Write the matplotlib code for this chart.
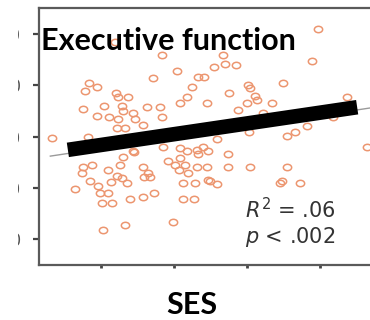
import matplotlib
matplotlib.use("Agg")
import matplotlib.pyplot as plt
from matplotlib.markers import MarkerStyle
from matplotlib.transforms import Affine2D
from matplotlib.patches import Rectangle

# SES (x) and executive function score (y)
ses = [-0.80, -0.16, 0.67, 1.97, 1.89, 0.04, -0.28, 0.33, 0.55, 0.70,
       0.85, 0.41, -1.16, -1.05, -1.21, -0.79, -0.77, -0.63, 0.25, 0.18,
       0.08, 1.02, 1.04, 1.49, 0.76, 1.11, 1.14, 0.45, 1.00, 1.35,
       0.88, 2.37, 1.22, -1.24, -0.96, -0.71, -0.69, -0.56, -0.37, -0.19,
       -1.05, -0.89, -0.77, -0.53, -0.16, -0.42, -0.78, -0.67, -1.67, -1.17,
       -0.15, 0.08, -0.56, 0.18, 0.32, 0.40, 0.47, 0.33, 0.74, 0.59,
       1.03, 1.55, 1.66, 1.82, 2.18, 2.64, -1.24, -1.12, -1.26, -0.90,
       -0.74, -0.69, -0.54, -0.78, -0.71, -0.64, -0.86, -1.15, -1.04, -1.01,
       -0.90, -1.35, -0.98, -0.85, -0.60, -0.42, -0.27, -0.42, -0.35, -0.41,
       -0.08, 0.02, 0.08, 0.15, 0.07, 0.19, 0.32, 0.45, 0.47, 0.13,
       0.29, 0.13, 0.28, -0.97, -0.67, -0.01, 0.74, 1.04, 1.55, 0.50,
       0.59, 1.45, 1.48, 1.73, -0.33]
ef = [48.4, 45.9, 45.9, 50.9, 44.7, 42.8, 41.4, 41.6, 43.5, 44.1,
      43.9, 41.6, 40.4, 39.7, 38.9, 38.5, 37.7, 37.7, 39.7, 37.7,
      36.5, 40.0, 39.5, 40.4, 38.5, 37.9, 37.1, 36.5, 36.5, 36.5,
      35.2, 37.7, 34.6, 35.4, 36.0, 36.0, 35.0, 34.6, 35.8, 35.8,
      34.0, 33.8, 33.4, 33.4, 33.8, 32.3, 31.7, 31.7, 29.7, 29.9,
      28.0, 27.8, 27.2, 27.2, 27.4, 28.0, 27.2, 26.6, 26.6, 29.5,
      30.9, 30.1, 30.9, 32.1, 33.8, 28.0, 24.1, 24.5, 22.9, 23.5,
      24.5, 26.0, 27.0, 22.3, 22.0, 21.0, 21.2, 21.4, 20.4, 19.0,
      19.0, 19.8, 17.1, 17.1, 17.9, 18.3, 19.0, 24.1, 22.9, 22.1,
      25.3, 24.5, 25.8, 24.5, 23.5, 22.9, 24.1, 24.1, 21.6, 21.0,
      21.0, 17.9, 17.9, 11.8, 12.8, 13.4, 24.1, 24.1, 24.1, 21.4,
      20.8, 21.0, 21.4, 21.0, 22.1]

# fitted line (intercept, slope) and the hand-drawn bar over it
fit_coef = [29.8, 2.14]
fit_x = [-1.69, 2.68]
bar_x = [-1.45, 2.51]
bar_y = [27.4, 35.7]

y_ticks = [10, 20, 30, 40, 50]
x_ticks = [-1, 0, 1, 2]

plt.rcParams["mathtext.fontset"] = "dejavusans"

fig = plt.figure(figsize=(3.7, 3.2), dpi=100)
ax = fig.add_axes([39 / 370, 55 / 320, 343 / 370, 257 / 320])

# slightly wide ellipse markers like the stretched original
oval = MarkerStyle("o", transform=Affine2D().scale(1.3, 1.0))
ax.plot(ses, ef, linestyle="none", marker=oval, markersize=4.6,
        markerfacecolor="none", markeredgecolor="#EC9670",
        markeredgewidth=1.1)

fx = fit_x
fy = [fit_coef[0] + fit_coef[1] * v for v in fx]
ax.plot(fx, fy, color="#9a9a9a", lw=1.0)
ax.plot(bar_x, bar_y, color="black", lw=10.5, solid_capstyle="butt")

ax.set_xlim(-1.845, 2.85)
ax.set_ylim(5, 55)
ax.set_yticks(y_ticks)
ax.set_yticklabels([str(v) for v in y_ticks])
ax.set_xticks(x_ticks)
ax.set_xticklabels([])
ax.tick_params(axis="y", length=4.5, width=1.6, color="#444444",
               labelsize=12, labelcolor="#555555", pad=8.5)
ax.tick_params(axis="x", length=2.5, width=2.0, color="#444444")
for s in ax.spines.values():
    s.set_color("#5a5a5a")
    s.set_linewidth(1.6)

# the original crop hides most of the y tick labels
fig.patches.append(Rectangle((0, 0), 18 / 370, 1, transform=fig.transFigure,
                             facecolor="white", edgecolor="none", zorder=5))

fig.text(41 / 370, 270 / 320, "Executive function", fontsize=22,
         fontweight="bold", family="Lato", va="baseline", zorder=6)
fig.text(192 / 370, 6 / 320, "SES", fontsize=22, fontweight="bold",
         family="Lato", ha="center", va="baseline", zorder=6)
fig.text(245 / 370, 102 / 320, r"$R^2$ = .06", fontsize=15, color="#333333",
         va="baseline", zorder=6)
fig.text(245 / 370, 77 / 320, r"$p$ < .002", fontsize=15, color="#333333",
         va="baseline", zorder=6)

fig.savefig("out.png", dpi=100)
